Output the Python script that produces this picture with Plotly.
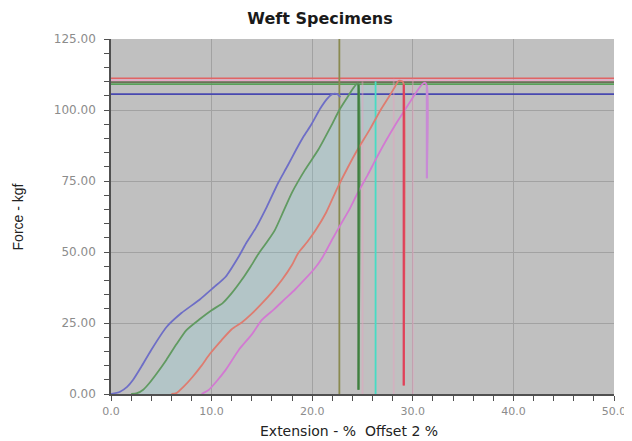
import plotly.graph_objects as go
import numpy as np

# ---- data ----
blue_x = [0.0, 0.9, 1.6, 2.2, 3.0, 4.0, 5.5, 7.0, 8.8, 10.2, 11.4, 12.7, 13.5, 14.4, 15.5, 16.6, 17.5, 18.4, 19.2, 19.9, 20.8, 21.5, 22.0, 22.5, 22.8]
blue_y = [0.0, 0.8, 2.5, 5.0, 9.5, 15.5, 23.5, 28.5, 33.2, 37.5, 41.3, 48.4, 53.5, 58.5, 66.0, 74.2, 80.0, 86.0, 91.0, 94.8, 100.5, 104.0, 105.6, 105.6, 104.5]

green_x = [2.0, 2.6, 3.2, 3.8, 4.6, 5.5, 6.5, 7.5, 8.8, 10.0, 11.1, 12.0, 13.0, 13.9, 14.7, 15.5, 16.3, 17.1, 18.0, 19.3, 20.6, 21.9, 22.7, 23.5, 24.1, 24.5, 24.6, 24.6]
green_y = [0.0, 0.3, 1.5, 3.8, 7.5, 12.0, 17.5, 22.5, 26.3, 29.5, 32.0, 35.5, 40.2, 45.0, 49.6, 53.5, 57.8, 64.0, 71.0, 79.0, 86.0, 94.5, 100.0, 104.5, 107.8, 109.4, 109.0, 1.5]

red_x = [6.0, 6.5, 7.2, 8.1, 9.0, 9.8, 11.0, 12.0, 13.0, 14.0, 15.0, 16.0, 17.0, 18.0, 18.6, 19.5, 20.4, 21.4, 22.5, 23.5, 24.5, 25.7, 26.8, 27.6, 28.2, 28.6, 29.0, 29.1, 29.1]
red_y = [0.0, 0.3, 2.5, 6.0, 10.0, 14.0, 19.0, 22.8, 25.2, 28.3, 31.9, 35.8, 40.2, 45.5, 49.6, 53.5, 58.0, 64.0, 72.5, 79.5, 86.0, 93.0, 100.0, 104.5, 108.0, 110.3, 110.0, 109.0, 3.0]

magenta_x = [9.0, 9.7, 10.5, 11.4, 12.7, 14.0, 15.0, 16.2, 17.3, 18.3, 19.3, 20.2, 21.0, 22.0, 22.8, 23.7, 24.5, 25.5, 26.3, 27.3, 28.3, 29.3, 30.2, 30.8, 31.2, 31.4, 31.4]
magenta_y = [0.0, 1.4, 4.5, 8.5, 15.5, 21.0, 26.1, 29.8, 33.5, 36.8, 40.5, 44.0, 48.0, 54.5, 59.5, 65.0, 70.7, 77.0, 82.5, 89.0, 95.0, 100.5, 105.5, 108.5, 109.6, 108.5, 76.0]

# peak-load reference lines (kgf) and break-extension lines (%)
peak_loads = [111.2, 110.5, 109.8, 109.1, 105.6]
peak_colors = ["#e06464", "#e8a8c8", "#6e6e58", "#58a058", "#4848b0"]

break_ext = [22.7, 25.0, 26.3, 28.1, 30.0]
break_top = [125.0, 110.0, 110.0, 111.0, 111.0]
break_colors = ["#8a8a50", "rgba(232,160,190,0.45)", "#46dcc4", "rgba(232,160,190,0.45)", "rgba(232,160,190,0.45)"]

cyan_edge = 26.3

x_ticks = [0, 10, 20, 30, 40, 50]
y_ticks = [0, 25, 50, 75, 100, 125]

fig = go.Figure()

# cyan tinted band between green and red specimens
gx = np.array(green_x)
gy = np.array(green_y)
pk = int(np.argmax(gy))
rx = np.array(red_x)
ry = np.array(red_y)
rmask = (rx <= cyan_edge) & (np.arange(len(rx)) < int(np.argmax(ry)))
poly_x = list(gx[:pk + 1]) + [cyan_edge, cyan_edge] + list(rx[rmask][::-1])
poly_y = list(gy[:pk + 1]) + [gy[pk], float(np.interp(cyan_edge, rx[rmask], ry[rmask]))] + list(ry[rmask][::-1])
fig.add_trace(go.Scatter(x=poly_x, y=poly_y, fill="toself", mode="none",
                         fillcolor="rgba(130,215,225,0.22)", hoverinfo="skip", showlegend=False))

# horizontal peak-load lines
for v, c in zip(peak_loads, peak_colors):
    fig.add_trace(go.Scatter(x=[0, 50], y=[v, v], mode="lines",
                             line=dict(color=c, width=1.6), showlegend=False, hoverinfo="skip"))

# vertical break lines
for v, top, c in zip(break_ext, break_top, break_colors):
    fig.add_trace(go.Scatter(x=[v, v], y=[0, top], mode="lines",
                             line=dict(color=c, width=1.8), showlegend=False, hoverinfo="skip"))

# specimen curves
curves = [
    (blue_x, blue_y, "#6e6ec6"),
    (green_x, green_y, "#619a61"),
    (red_x, red_y, "#de7c70"),
    (magenta_x, magenta_y, "#d27ad2"),
]
for xs, ys, c in curves:
    fig.add_trace(go.Scatter(x=xs, y=ys, mode="lines", line=dict(color=c, width=1.8, shape="spline", smoothing=0.6),
                             showlegend=False))

# emphasise the breaking drops
fig.add_trace(go.Scatter(x=green_x[-2:], y=green_y[-2:], mode="lines", line=dict(color="#3f7f3f", width=2.2), showlegend=False))
fig.add_trace(go.Scatter(x=red_x[-2:], y=red_y[-2:], mode="lines", line=dict(color="#e0405a", width=2.2), showlegend=False))
fig.add_trace(go.Scatter(x=magenta_x[-2:], y=magenta_y[-2:], mode="lines", line=dict(color="#c88ad6", width=2.2), showlegend=False))

tick_font = dict(family="DejaVu Sans, sans-serif", size=12, color="#8c8c8c")
xtick_font = dict(family="DejaVu Sans, sans-serif", size=11, color="#8c8c8c")

fig.update_layout(
    width=624, height=433,
    margin=dict(l=103, r=18, t=31, b=47),
    paper_bgcolor="white",
    plot_bgcolor="#c0c0c0",
    title=dict(text="<b>Weft Specimens</b>", x=0.5, xanchor="center", y=0.99, yanchor="top",
               font=dict(family="DejaVu Sans, sans-serif", size=16, color="#1a1a1a")),
    xaxis=dict(range=[0, 50], tickvals=x_ticks, tickformat=".1f", tickfont=xtick_font, automargin=False,
               showgrid=True, gridcolor="#a2a2a2", gridwidth=1, zeroline=False,
               showline=True, linecolor="#505050", linewidth=1.5,
               ticks="outside", ticklen=5, tickcolor="#505050", ticklabelstandoff=1,
               minor=dict(dtick=2, ticks="outside", ticklen=5, tickcolor="#505050", showgrid=False)),
    yaxis=dict(range=[0, 125], tickvals=y_ticks, tickformat=".2f", tickfont=tick_font, automargin=False,
               showgrid=True, gridcolor="#a2a2a2", gridwidth=1, zeroline=False,
               showline=True, linecolor="#505050", linewidth=1.5,
               ticks="outside", ticklen=5, tickcolor="#505050", ticklabelstandoff=6,
               minor=dict(dtick=5, ticks="outside", ticklen=5, tickcolor="#505050", showgrid=False)),
    annotations=[
        dict(text="Extension - %  Offset 2 %", xref="paper", yref="paper", x=0.473, y=-0.104,
             xanchor="center", yanchor="middle", showarrow=False,
             font=dict(family="DejaVu Sans, sans-serif", size=14, color="#222")),
        dict(text="Force - kgf", xref="paper", yref="paper", x=-0.185, y=0.5, textangle=-90,
             xanchor="center", yanchor="middle", showarrow=False,
             font=dict(family="Liberation Sans, Arial, sans-serif", size=14, color="#222")),
    ],
)

fig.write_html("out.html")
